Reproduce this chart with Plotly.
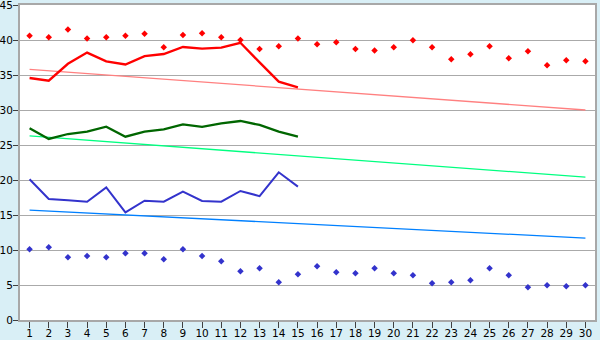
import plotly.graph_objects as go

days = list(range(1, 31))
days15 = list(range(1, 16))

red_points = [40.6, 40.4, 41.5, 40.2, 40.4, 40.6, 40.9, 38.95, 40.7, 40.95,
              40.4, 40.0, 38.7, 39.1, 40.2, 39.4, 39.67, 38.7, 38.5, 38.95,
              39.95, 38.95, 37.24, 37.95, 39.1, 37.4, 38.4, 36.38, 37.1, 36.95]
red_line = [34.57, 34.19, 36.6, 38.2, 36.95, 36.5, 37.7, 38.0, 39.0, 38.76,
            38.9, 39.6, 36.8, 34.05, 33.24]
green_line = [27.38, 25.86, 26.57, 26.9, 27.62, 26.19, 26.9, 27.24, 27.95, 27.6,
              28.1, 28.43, 27.86, 26.9, 26.19]
blue_line = [20.1, 17.29, 17.1, 16.9, 18.95, 15.38, 17.05, 16.9, 18.33, 17.0,
             16.9, 18.43, 17.7, 21.1, 19.05]
blue_points = [10.1, 10.38, 8.95, 9.14, 8.95, 9.52, 9.52, 8.67, 10.1, 9.14,
               8.38, 6.95, 7.38, 5.38, 6.52, 7.67, 6.81, 6.67, 7.38, 6.67,
               6.38, 5.24, 5.38, 5.67, 7.38, 6.38, 4.67, 4.95, 4.81, 4.95]
red_trend_ends = [35.8, 30.0]
green_trend_ends = [26.3, 20.4]
blue_trend_ends = [15.7, 11.7]
trend_x = [1, 30]

fig = go.Figure()
fig.add_trace(go.Scatter(x=trend_x, y=red_trend_ends, mode="lines",
                         line=dict(color="#FF8080", width=1.3)))
fig.add_trace(go.Scatter(x=trend_x, y=green_trend_ends, mode="lines",
                         line=dict(color="#00FF80", width=1.3)))
fig.add_trace(go.Scatter(x=trend_x, y=blue_trend_ends, mode="lines",
                         line=dict(color="#0080FF", width=1.3)))
fig.add_trace(go.Scatter(x=days, y=red_points, mode="markers",
                         marker=dict(symbol="diamond", size=5, color="#FF0000")))
fig.add_trace(go.Scatter(x=days, y=blue_points, mode="markers",
                         marker=dict(symbol="diamond", size=5, color="#3333CC")))
fig.add_trace(go.Scatter(x=days15, y=red_line, mode="lines",
                         line=dict(color="#FF0000", width=2.3)))
fig.add_trace(go.Scatter(x=days15, y=green_line, mode="lines",
                         line=dict(color="#006600", width=2.3)))
fig.add_trace(go.Scatter(x=days15, y=blue_line, mode="lines",
                         line=dict(color="#3333CC", width=2)))

fig.update_layout(
    width=600, height=340,
    margin=dict(l=20, r=5, t=5, b=20),
    paper_bgcolor="#D9EFF6",
    plot_bgcolor="#FFFFFF",
    showlegend=False,
    font=dict(family="DejaVu Sans", size=10.5, color="#000000"),
)
fig.update_xaxes(
    range=[0.5, 30.5], tickmode="array", tickvals=days,
    ticktext=[str(d) for d in days],
    showgrid=False, zeroline=False,
    showline=True, linecolor="#A8A8A8", linewidth=2, mirror=True,
    ticks="outside", ticklen=6, tickcolor="#404040",
    ticklabelstandoff=-4, ticklabeloverflow="allow",
    automargin=False,
)
fig.update_yaxes(
    range=[0, 45], dtick=5, tick0=0,
    showgrid=True, gridcolor="#AAAAAA", gridwidth=1, zeroline=False,
    showline=True, linecolor="#A8A8A8", linewidth=2, mirror=True,
    ticks="outside", ticklen=5, tickcolor="#404040",
    ticklabelstandoff=-2, ticklabeloverflow="allow",
    automargin=False,
)

fig.write_html("out.html")
